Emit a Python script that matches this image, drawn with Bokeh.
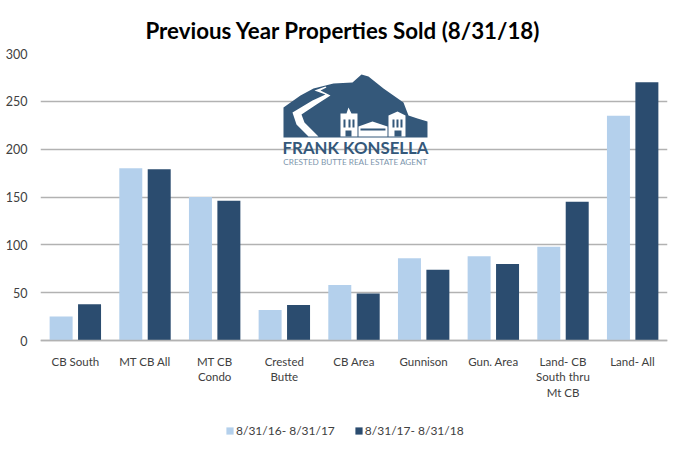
from bokeh.plotting import figure
from bokeh.embed import file_html
from bokeh.resources import INLINE
from bokeh.models import FixedTicker, Legend, LegendItem, Range1d, Title
from bokeh.core.properties import value

title_text = "Previous Year Properties Sold  (8/31/18)"
categories = ["CB South", "MT CB All", "MT CB\nCondo", "Crested\nButte", "CB Area",
              "Gunnison", "Gun. Area", "Land- CB\nSouth thru\nMt CB", "Land- All"]
series_a = [25, 180, 150, 32, 58, 86, 88, 98, 235]
series_b = [38, 179, 146, 37, 49, 74, 80, 145, 270]
name_a = "8/31/16- 8/31/17"
name_b = "8/31/17- 8/31/18"
y_ticks = [0, 50, 100, 150, 200, 250, 300]

LIGHT = "#b4d0ec"
DARK = "#2b4c6f"
LOGO = "#34587a"
FONT = "Lato"
W, H = 677, 462
L, R, T, B = 40, 10, 53, 2   # frame borders
PX = 287 / 300               # pixels per unit on the y axis
Y_MIN = -(H - B - 340) / PX  # frame reaches below zero to hold labels and legend

p = figure(width=W, height=H, output_backend="svg", toolbar_location=None,
           x_range=Range1d(-0.5, 8.5), y_range=Range1d(Y_MIN, 300),
           min_border_left=L, min_border_right=R, min_border_top=T, min_border_bottom=B)
p.outline_line_color = None
p.background_fill_color = "white"
xs = list(range(len(categories)))
ra = p.vbar(x=[i - 0.204 for i in xs], top=series_a, width=0.33, color=LIGHT, line_color=None)
rb = p.vbar(x=[i + 0.204 for i in xs], top=series_b, width=0.33, color=DARK, line_color=None)

p.add_layout(Title(text=title_text, align="left", offset=105, standoff=19,
                   text_font=FONT, text_font_style="bold", text_font_size="22.3px",
                   text_color="#000000"), "above")

p.xgrid.visible = False
p.ygrid.ticker = FixedTicker(ticks=y_ticks)
p.ygrid.grid_line_color = "#b2b2b2"
p.ygrid.grid_line_width = 1.3
p.yaxis.ticker = FixedTicker(ticks=y_ticks)
p.yaxis.axis_line_color = None
p.yaxis.major_tick_line_color = None
p.yaxis.major_tick_out = 0
p.yaxis.minor_tick_line_color = None
p.yaxis.minor_tick_out = 0
p.yaxis.major_label_standoff = 13
p.yaxis.major_label_text_font = FONT
p.yaxis.major_label_text_font_size = "12.5px"
p.yaxis.major_label_text_color = "#404040"
p.xaxis.fixed_location = 0
p.xaxis.ticker = FixedTicker(ticks=xs)
p.xaxis.major_label_overrides = {i: c for i, c in enumerate(categories)}
p.xaxis.axis_line_color = "#b2b2b2"
p.xaxis.axis_line_width = 1.3
p.xaxis.major_tick_line_color = None
p.xaxis.major_tick_out = 0
p.xaxis.minor_tick_line_color = None
p.xaxis.minor_tick_out = 0
p.xaxis.major_label_standoff = 14
p.xaxis.major_label_text_font = FONT
p.xaxis.major_label_text_font_size = "11.5px"
p.xaxis.major_label_text_line_height = 1.2
p.xaxis.major_label_text_color = "#404040"

# page px -> data, for the decorative logo only
def dx(v): return [(a - 40) / 69.67 - 0.5 for a in v]
def dy(v): return [(340 - a) / PX for a in v]

p.patch(dx([283, 300, 313, 333, 352, 361, 368, 383, 403, 408, 417, 427, 427, 283]),
        dy([107, 95, 88, 83, 82, 74, 76, 88, 102, 115, 118, 121, 137, 137]),
        color=LOGO, line_color=None)
# road
p.patch(dx([325, 314, 325, 312, 292, 296, 308, 318, 304, 301, 316, 330, 320, 326]),
        dy([86, 90, 94, 100, 112, 124, 136, 136, 122, 114, 104, 95, 90, 87]),
        color="white", line_color=None)
# buildings
p.patch(dx([340, 340, 346, 348, 351, 357, 357]), dy([136, 113, 113, 107, 113, 113, 136]), color="white", line_color=None)
p.patch(dx([358, 358, 372, 387, 387]), dy([136, 126, 121, 126, 136]), color="white", line_color=None)
p.patch(dx([388, 388, 397, 405, 405]), dy([136, 115, 111, 115, 136]), color="white", line_color=None)
for wi in [343, 348, 352, 392, 396, 400]:
    p.patch(dx([wi, wi, wi + 2, wi + 2]), dy([119, 127, 127, 119]), color=LOGO, line_color=None)
p.patch(dx([345, 345, 351, 351]), dy([136, 130, 130, 136]), color=LOGO, line_color=None)
p.patch(dx([394, 394, 401, 401]), dy([136, 130, 130, 136]), color=LOGO, line_color=None)
p.patch(dx([360, 360, 385, 385]), dy([130, 128, 128, 130]), color=LOGO, line_color=None)

p.text(dx([355]), dy([146.5]), text=["FRANK KONSELLA"], text_font=value("Lato"),
       text_font_style="bold", text_font_size="16.8px", text_color=LOGO,
       text_align="center", text_baseline="middle")
p.text(dx([355]), dy([161]), text=["CRESTED BUTTE REAL ESTATE AGENT"], text_font=value("Lato"),
       text_font_size="8.2px", text_color="#7d96ad", text_align="center", text_baseline="middle")

legend = Legend(items=[LegendItem(label=name_a, renderers=[ra]), LegendItem(label=name_b, renderers=[rb])],
                orientation="horizontal", location=(185, 22), border_line_color=None,
                background_fill_alpha=0, label_text_font=FONT, label_text_font_size="12px",
                label_text_color="#404040", glyph_width=9, glyph_height=9, spacing=19,
                label_standoff=2, padding=0, margin=0)
p.add_layout(legend, "center")

open("out.html", "w").write(file_html(p, INLINE))
